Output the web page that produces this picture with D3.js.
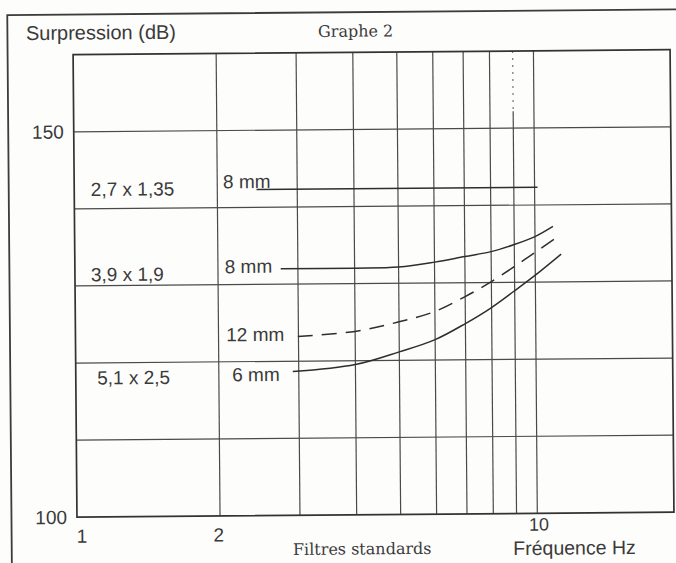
<!DOCTYPE html>
<html>
<head>
<meta charset="utf-8">
<script src="https://cdn.jsdelivr.net/npm/d3@7"></script>
<style>
  html, body { margin: 0; padding: 0; background: #fdfdfc; }
  svg { display: block; }
  .sans { font-family: "Liberation Sans", Arial, sans-serif; fill: #3a3a3a; }
  .serif { font-family: "DejaVu Serif", serif; fill: #3a3a3a; }
</style>
</head>
<body>
<div id="chart"></div>
<script>
// Values
const freqTicks = [1, 2, 10];
const levelTicks = [100, 150];
const gridFreqs = [2, 3, 4, 5, 6, 7, 8, 9, 10];
const gridLevels = [110, 120, 130, 140, 150];

const filterSizes = ["2,7 x 1,35", "3,9 x 1,9", "5,1 x 2,5"];
const lengthLabels = ["8 mm", "8 mm", "12 mm", "6 mm"];

// 2,7 x 1,35 - 8 mm
const freqA = [2.44, 10.15];
const levelA = [142.3, 142.3];
// 3,9 x 1,9 - 8 mm
const freqB = [2.75, 4, 5, 6, 7, 8, 9, 10, 10.96];
const levelB = [132.0, 132.0, 132.1, 132.7, 133.4, 134.0, 134.9, 135.9, 137.2];
// 3,9 x 1,9 - 12 mm (dashed)
const freqC = [2.99, 4, 5, 6, 7, 8, 9, 10, 11.18];
const levelC = [123.2, 123.8, 125.0, 126.3, 128.2, 130.1, 132.05, 133.85, 135.8];
// 5,1 x 2,5 - 6 mm
const freqD = [2.91, 4, 5, 6, 7, 8, 9, 10, 11.41];
const levelD = [118.65, 119.5, 121.1, 122.65, 124.7, 126.75, 128.9, 130.9, 133.6];

const W = 676, H = 563;
const pLeft = 75, pRight = 672, pTop = 52.5, pBottom = 515;

const svg = d3.select("#chart").append("svg")
    .attr("width", W)
    .attr("height", H);

// the scan is slightly tilted
const g = svg.append("g").attr("transform", "rotate(-0.48, 338, 281)");

const x = d3.scaleLog().domain([0.968, 20]).range([pLeft, pRight]);
const y = d3.scaleLinear().domain([100, 160]).range([pBottom, pTop]);

// outer page frame
g.append("path")
    .attr("d", `M9.5,${H + 20} V12.3 H${W + 20}`)
    .attr("fill", "none")
    .attr("stroke", "#3c3c3c")
    .attr("stroke-width", 1.8);

// grid
g.selectAll("line.vgrid")
    .data(gridFreqs)
    .enter().append("line")
        .attr("class", "vgrid")
        .attr("x1", d => x(d)).attr("x2", d => x(d))
        .attr("y1", d => d === 9 ? y(152.2) : pTop)
        .attr("y2", pBottom)
        .attr("stroke", "#4a4a4a")
        .attr("stroke-width", 1.2);

// dotted top of the 9 Hz line
g.append("line")
    .attr("x1", x(9)).attr("x2", x(9))
    .attr("y1", pTop).attr("y2", y(152.2))
    .attr("stroke", "#666")
    .attr("stroke-width", 1.1)
    .attr("stroke-dasharray", "2,5");

g.selectAll("line.hgrid")
    .data(gridLevels)
    .enter().append("line")
        .attr("class", "hgrid")
        .attr("x1", pLeft).attr("x2", pRight)
        .attr("y1", d => y(d)).attr("y2", d => y(d))
        .attr("stroke", "#4a4a4a")
        .attr("stroke-width", 1.2);

// plot frame
g.append("rect")
    .attr("x", pLeft).attr("y", pTop)
    .attr("width", pRight - pLeft).attr("height", pBottom - pTop)
    .attr("fill", "none")
    .attr("stroke", "#333")
    .attr("stroke-width", 1.7);

// axes (labels only)
const xAxis = g.append("g")
    .attr("transform", `translate(0,${pBottom})`)
    .call(d3.axisBottom(x).tickValues(freqTicks).tickFormat(d3.format("d")).tickSize(0).tickPadding(12));
const yAxis = g.append("g")
    .attr("transform", `translate(${pLeft},0)`)
    .call(d3.axisLeft(y).tickValues(levelTicks).tickSize(0).tickPadding(10));
[xAxis, yAxis].forEach(a => {
    a.select(".domain").remove();
    a.selectAll("text")
        .attr("class", "sans")
        .style("font-size", "19px")
        .attr("fill", "#3a3a3a");
});
xAxis.selectAll("text").attr("dx", -2);
xAxis.selectAll("text").filter(d => d === 10).attr("y", 4.5).attr("dx", 1).style("font-size", "18px");

// curves
const line = d3.line()
    .x(d => x(d[0]))
    .y(d => y(d[1]))
    .curve(d3.curveCatmullRom.alpha(0.5));

const series = [
    { f: freqA, v: levelA, dash: null },
    { f: freqB, v: levelB, dash: null },
    { f: freqC, v: levelC, dash: "15,9" },
    { f: freqD, v: levelD, dash: null }
];

g.selectAll("path.curve")
    .data(series)
    .enter().append("path")
        .attr("class", "curve")
        .attr("d", d => line(d.f.map((f, i) => [f, d.v[i]])))
        .attr("fill", "none")
        .attr("stroke", "#2e2e2e")
        .attr("stroke-width", 1.5)
        .attr("stroke-dasharray", d => d.dash);

// filter size labels
const sizeAt = [[1.053, 141.65], [1.05, 130.6], [1.079, 117.2]];
g.selectAll("text.size")
    .data(filterSizes)
    .enter().append("text")
        .attr("class", "sans")
        .attr("x", (d, i) => x(sizeAt[i][0]))
        .attr("y", (d, i) => y(sizeAt[i][1]))
        .style("font-size", "19px")
        .text(d => d);

// filter length labels
const lengthAt = [[2.06, 142.5], [2.07, 131.5], [2.08, 122.65], [2.14, 117.45]];
g.selectAll("text.len")
    .data(lengthLabels)
    .enter().append("text")
        .attr("class", "sans")
        .attr("x", (d, i) => x(lengthAt[i][0]))
        .attr("y", (d, i) => y(lengthAt[i][1]))
        .style("font-size", "19px")
        .text(d => d);

// titles
g.append("text")
    .attr("class", "sans")
    .attr("x", 28).attr("y", 37.4)
    .style("font-size", "20px")
    .text("Surpression (dB)");

g.append("text")
    .attr("class", "serif")
    .attr("x", 320).attr("y", 36.8)
    .style("font-size", "16px")
    .text("Graphe 2");

g.append("text")
    .attr("class", "serif")
    .attr("x", 290.7).attr("y", 554.6)
    .style("font-size", "16px")
    .text("Filtres standards");

g.append("text")
    .attr("class", "sans")
    .attr("x", 511).attr("y", 556.5)
    .style("font-size", "19.5px")
    .text("Fréquence Hz");
</script>
</body>
</html>
